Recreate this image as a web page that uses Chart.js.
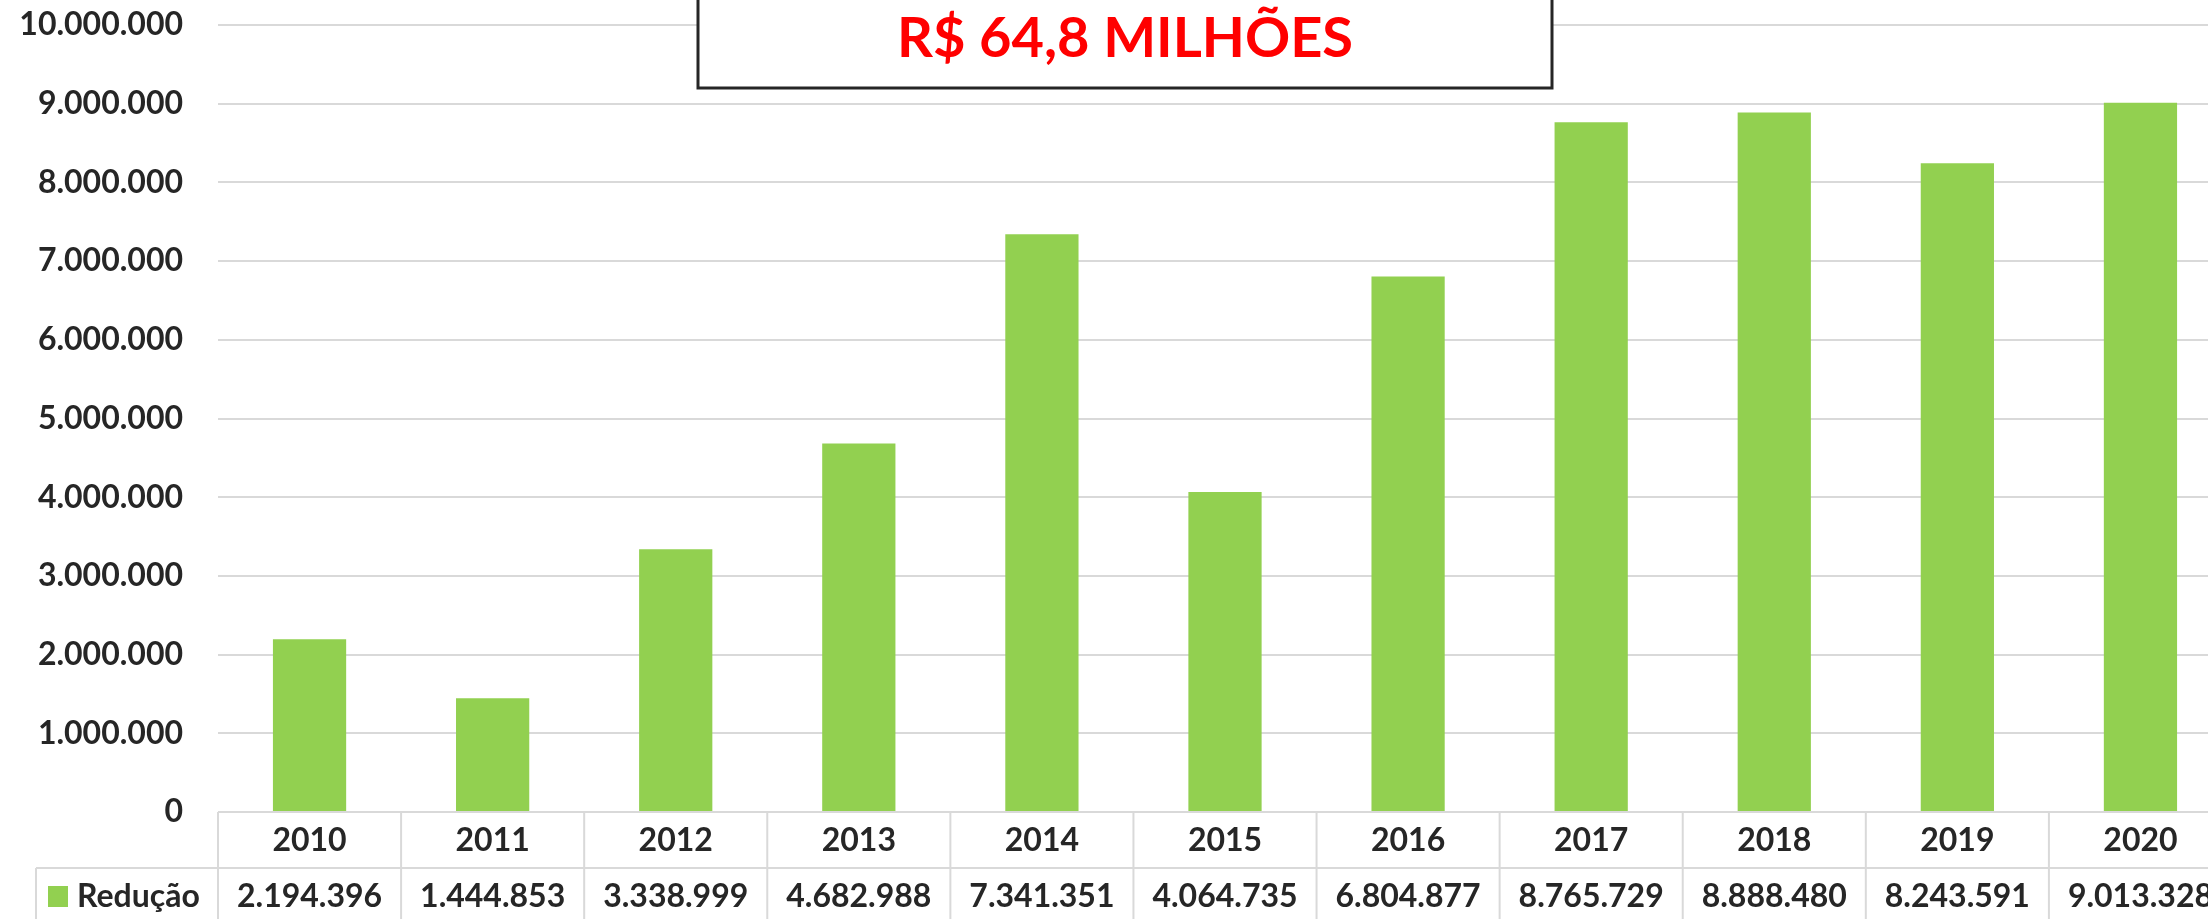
<!DOCTYPE html>
<html lang="pt-BR">
<head>
<meta charset="utf-8">
<title>Redução 2010-2020</title>
<script src="https://cdn.jsdelivr.net/npm/chart.js@4.4.1/dist/chart.umd.min.js"></script>
<style>
  html, body { margin: 0; padding: 0; background: #fff; overflow: hidden; }
  #wrap { width: 2232px; height: 919px; }
</style>
</head>
<body>
<div id="wrap"><canvas id="chart" width="2232" height="919"></canvas></div>
<script>
const years = ["2010", "2011", "2012", "2013", "2014", "2015", "2016", "2017", "2018", "2019", "2020"];
const reducao = [2194396, 1444853, 3338999, 4682988, 7341351, 4064735, 6804877, 8765729, 8888480, 8243591, 9013328];
const seriesName = "Redução";
const boxText = "R$ 64,8 MILHÕES";

const FONT = "Lato, 'Open Sans', sans-serif";
const TEXT = "#262626";
const LINE = "#d9d9d9";
const GREEN = "#92d050";

function fmt(n) {
  return String(n).replace(/\B(?=(\d{3})+(?!\d))/g, ".");
}

// tabela de dados abaixo do gráfico + caixa do total
const tablePlugin = {
  id: "dataTable",
  afterDraw(chart) {
    const { ctx, chartArea } = chart;
    const x = chart.scales.x;
    const w = (chartArea.right - chartArea.left) / years.length;
    const top = chartArea.bottom;
    const mid = top + 56;
    const bottom = chart.height + 10;

    ctx.save();
    ctx.strokeStyle = LINE;
    ctx.lineWidth = 2;
    ctx.beginPath();
    ctx.moveTo(36, mid);
    ctx.lineTo(chartArea.right, mid);
    ctx.moveTo(36, mid);
    ctx.lineTo(36, bottom);
    for (let i = 0; i <= years.length; i++) {
      const bx = chartArea.left + i * w;
      ctx.moveTo(bx, top);
      ctx.lineTo(bx, bottom);
    }
    ctx.stroke();

    ctx.fillStyle = TEXT;
    ctx.font = "bold 32px " + FONT;
    ctx.textAlign = "center";
    ctx.textBaseline = "middle";
    years.forEach((y, i) => {
      const cx = x.getPixelForValue(i);
      ctx.fillText(y, cx, top + 29);
      ctx.fillText(fmt(reducao[i]), cx, mid + 29);
    });

    // legenda da linha
    ctx.fillStyle = GREEN;
    ctx.fillRect(48, mid + 18, 20, 21);
    ctx.fillStyle = TEXT;
    ctx.textAlign = "left";
    ctx.fillText(seriesName, 77, mid + 29);

    // caixa do total
    ctx.fillStyle = "#fff";
    ctx.fillRect(698, -20, 854, 108);
    ctx.strokeStyle = TEXT;
    ctx.lineWidth = 3;
    ctx.strokeRect(698, -20, 854, 108);
    ctx.fillStyle = "#ff0000";
    ctx.font = "bold 56px " + FONT;
    ctx.textAlign = "center";
    ctx.fillText(boxText, 1125, 39);
    ctx.restore();
  }
};

function draw() {
  new Chart(document.getElementById("chart"), {
    type: "bar",
    data: {
      labels: years,
      datasets: [{
        label: seriesName,
        data: reducao,
        backgroundColor: GREEN,
        borderWidth: 0,
        categoryPercentage: 1,
        barPercentage: 0.4,
      }],
    },
    options: {
      responsive: false,
      animation: false,
      layout: { padding: { top: 25, left: 0, right: 0, bottom: 107 } },
      plugins: { legend: { display: false }, tooltip: { enabled: false } },
      scales: {
        x: { display: false },
        y: {
          min: 0,
          max: 10000000,
          ticks: {
            stepSize: 1000000,
            padding: 35,
            color: TEXT,
            font: { family: FONT, size: 32, weight: "bold" },
            callback: (v) => fmt(v),
          },
          grid: { color: LINE, lineWidth: 2, drawTicks: false },
          border: { display: false },
          afterFit: (scale) => {
            scale.width = 218;
            scale.paddingTop = 0;
            scale.paddingBottom = 0;
          },
        },
      },
    },
    plugins: [tablePlugin],
  });
}

if (document.fonts && document.fonts.load) {
  document.fonts.load("bold 32px Lato").then(draw, draw);
} else {
  draw();
}
</script>
</body>
</html>
